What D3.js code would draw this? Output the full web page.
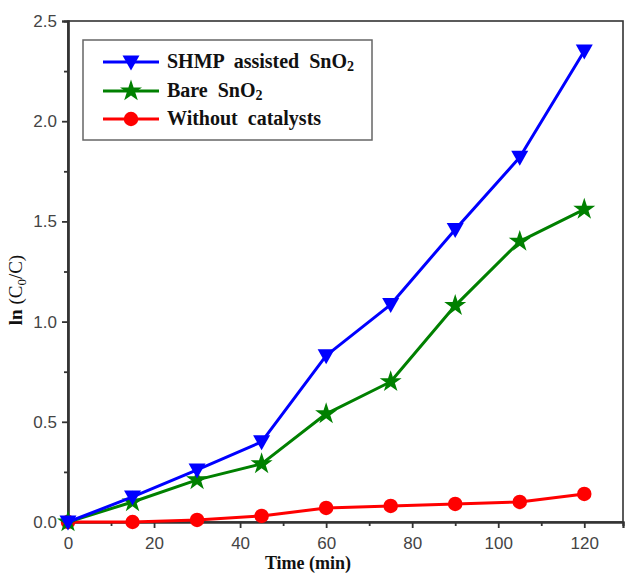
<!DOCTYPE html>
<html>
<head>
<meta charset="utf-8">
<script src="https://cdn.jsdelivr.net/npm/d3@7/dist/d3.min.js"></script>
<style>
  html, body { margin: 0; padding: 0; background: #fff; }
  svg { display: block; }
</style>
</head>
<body>
<svg id="chart" width="626" height="576"></svg>
<script>
// Reaction time (min)
const times = [0, 15, 30, 45, 60, 75, 90, 105, 120];

// ln(C0/C) for each sample
const shmpSnO2 = [0, 0.125, 0.26, 0.40, 0.83, 1.085, 1.46, 1.82, 2.35];
const bareSnO2 = [0, 0.10, 0.21, 0.29, 0.54, 0.70, 1.08, 1.40, 1.56];
const noCatalyst = [0, 0.00, 0.01, 0.03, 0.07, 0.08, 0.09, 0.10, 0.14];

const xTicks = [0, 20, 40, 60, 80, 100, 120];
const yTicks = [0.0, 0.5, 1.0, 1.5, 2.0, 2.5];

const series = [
  { name: "Without catalysts", values: noCatalyst, color: "#ff0000", marker: "circle" },
  { name: "Bare SnO", sub: "2", values: bareSnO2, color: "#008000", marker: "star" },
  { name: "SHMP assisted SnO", sub: "2", values: shmpSnO2, color: "#0000ff", marker: "triangleDown" }
];

const svg = d3.select("#chart");
const plotBox = { left: 68, right: 623, top: 21, bottom: 522 };

const x = d3.scaleLinear().domain([0, 129]).range([plotBox.left, plotBox.right]);
const y = d3.scaleLinear().domain([0, 2.5]).range([plotBox.bottom, plotBox.top]);

// frame
svg.append("rect")
  .attr("x", plotBox.left).attr("y", plotBox.top)
  .attr("width", plotBox.right - plotBox.left).attr("height", plotBox.bottom - plotBox.top)
  .attr("fill", "none").attr("stroke", "#333").attr("stroke-width", 1.6);

// minor ticks
const minorX = d3.range(10, 129, 20);
const minorY = d3.range(0.25, 2.5, 0.5);

const xAxis = d3.axisBottom(x).tickValues(xTicks).tickFormat(d3.format("d")).tickSize(6).tickPadding(9);
const yAxis = d3.axisLeft(y).tickValues(yTicks).tickFormat(d3.format(".1f")).tickSize(6).tickPadding(5);

svg.append("g").attr("transform", `translate(0,${plotBox.bottom})`).call(xAxis);
svg.append("g").attr("transform", `translate(${plotBox.left},0)`).call(yAxis);

svg.append("g").attr("transform", `translate(0,${plotBox.bottom})`)
  .call(d3.axisBottom(x).tickValues(minorX).tickFormat("").tickSize(4));
svg.append("g").attr("transform", `translate(${plotBox.left},0)`)
  .call(d3.axisLeft(y).tickValues(minorY).tickFormat("").tickSize(4));

svg.selectAll(".domain").attr("stroke", "#333").attr("stroke-width", 2.2);
svg.selectAll(".tick line").attr("stroke", "#333").attr("stroke-width", 1.8);
svg.selectAll(".tick text")
  .attr("fill", "#444")
  .style("font-family", "'Liberation Sans', Arial, sans-serif")
  .style("font-size", "17px");

// axis titles
svg.append("text")
  .attr("x", 308).attr("y", 569)
  .attr("text-anchor", "middle")
  .style("font-family", "'Liberation Serif', 'Times New Roman', serif")
  .style("font-weight", "bold").style("font-size", "18px")
  .attr("fill", "#111")
  .text("Time (min)");

const yTitle = svg.append("text")
  .attr("transform", "translate(22,290) rotate(-90)")
  .attr("text-anchor", "middle")
  .style("font-family", "'Liberation Serif', 'Times New Roman', serif")
  .style("font-weight", "bold").style("font-size", "19px")
  .attr("fill", "#111");
yTitle.append("tspan").text("ln ");
yTitle.append("tspan").style("font-weight", "normal").text("(C");
yTitle.append("tspan").attr("dy", 4).style("font-weight", "normal").style("font-size", "13px").text("0");
yTitle.append("tspan").attr("dy", -4).style("font-weight", "normal").text("/C)");

// marker shapes
function markerPath(type) {
  if (type === "triangleDown") {
    return "M-8.5,-6.5L8.5,-6.5L0,8.5Z";
  }
  if (type === "star") {
    return d3.symbol().type(d3.symbolStar).size(150)();
  }
  return d3.symbol().type(d3.symbolCircle).size(165)();
}

const line = d3.line().x((d, i) => x(times[i])).y(d => y(d));

const plot = svg.append("g");
series.forEach(s => {
  plot.append("path")
    .datum(s.values)
    .attr("d", line)
    .attr("fill", "none")
    .attr("stroke", s.color)
    .attr("stroke-width", 3)
    .attr("stroke-linejoin", "round");
  plot.selectAll(null)
    .data(s.values)
    .enter().append("path")
    .attr("d", markerPath(s.marker))
    .attr("transform", (d, i) => `translate(${x(times[i])},${y(d)})`)
    .attr("fill", s.color);
});

// legend
const legend = svg.append("g");
legend.append("rect")
  .attr("x", 83).attr("y", 40).attr("width", 289).attr("height", 100)
  .attr("fill", "#fff").attr("stroke", "#666").attr("stroke-width", 1.5);

const legendItems = [series[2], series[1], series[0]];
const rowY = [62, 91, 119];
legendItems.forEach((s, i) => {
  const g = legend.append("g").attr("transform", `translate(0,${rowY[i]})`);
  g.append("line").attr("x1", 103).attr("x2", 159).attr("y1", 0).attr("y2", 0)
    .attr("stroke", s.color).attr("stroke-width", 3);
  g.append("path").attr("d", markerPath(s.marker))
    .attr("transform", "translate(131,0)").attr("fill", s.color);
  const t = g.append("text").attr("x", 167).attr("y", 6)
    .style("font-family", "'Liberation Serif', 'Times New Roman', serif")
    .style("font-weight", "bold").style("font-size", "20px")
    .attr("fill", "#111")
    .style("word-spacing", "5px");
  t.append("tspan").text(s.name);
  if (s.sub) t.append("tspan").attr("dy", 3).style("font-size", "14px").text(s.sub);
});
</script>
</body>
</html>
